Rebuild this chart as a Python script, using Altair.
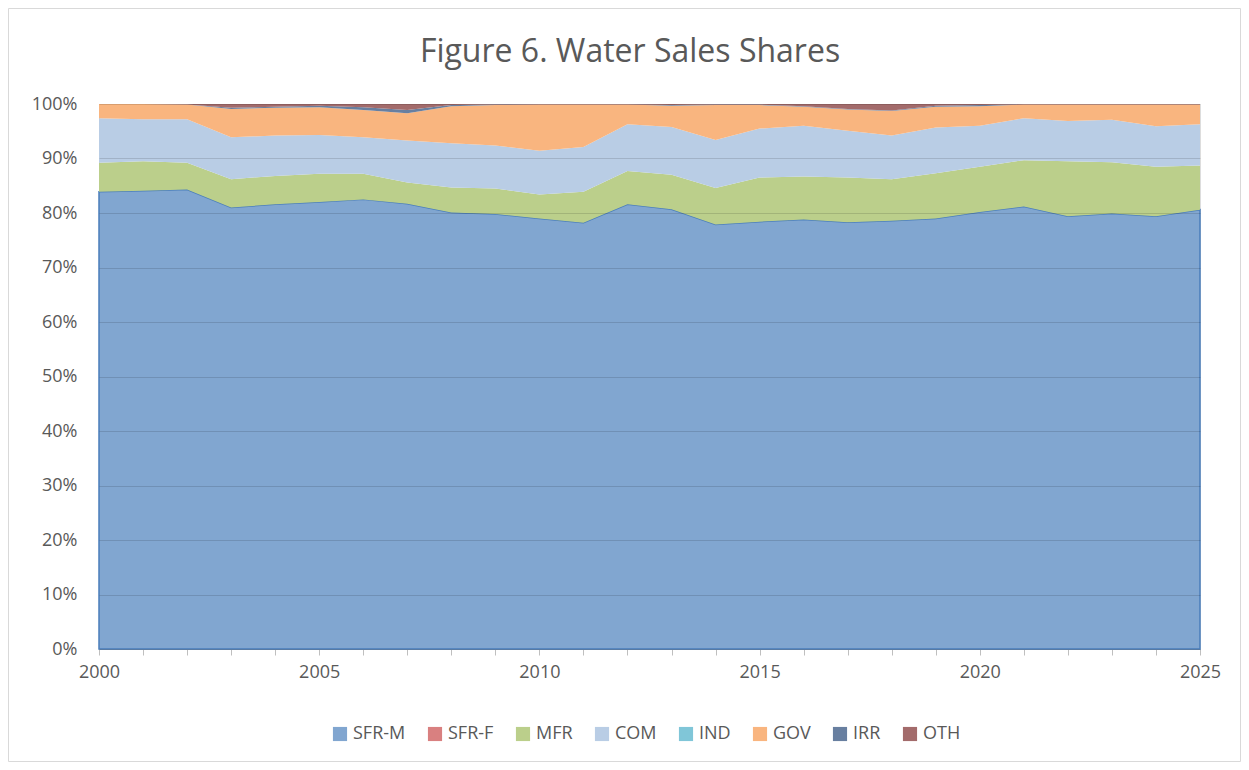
import altair as alt
import pandas as pd

years = list(range(2000, 2026))
series = ["SFR-M", "SFR-F", "MFR", "COM", "IND", "GOV", "IRR", "OTH"]

sfr_m = [83.9, 84.1, 84.3, 81.0, 81.6, 82.0, 82.5, 81.7, 80.1, 79.8, 79.0, 78.2, 81.6,
         80.7, 77.9, 78.4, 78.8, 78.3, 78.6, 79.0, 80.2, 81.2, 79.4, 79.9, 79.4, 80.6]
sfr_f = [0.0] * 26
mfr = [5.3, 5.4, 4.9, 5.2, 5.2, 5.2, 4.7, 3.9, 4.6, 4.7, 4.4, 5.7, 6.1,
       6.3, 6.7, 8.1, 7.9, 8.2, 7.6, 8.3, 8.3, 8.5, 10.1, 9.4, 9.1, 8.1]
com = [8.2, 7.7, 8.0, 7.7, 7.4, 7.1, 6.7, 7.7, 8.1, 7.9, 8.0, 8.2, 8.6,
       8.8, 8.8, 9.0, 9.3, 8.6, 8.0, 8.4, 7.5, 7.7, 7.4, 7.8, 7.4, 7.6]
ind = [0.0] * 26
gov = [2.6, 2.8, 2.7, 5.2, 5.1, 5.1, 5.0, 5.0, 6.8, 7.4, 8.5, 7.8, 3.6,
       3.9, 6.4, 4.3, 3.5, 3.9, 4.5, 3.8, 3.6, 2.5, 3.0, 2.8, 4.0, 3.6]
irr = [0.0, 0.0, 0.0, 0.2, 0.2, 0.3, 0.5, 0.6, 0.2, 0.1, 0.0, 0.0, 0.0,
       0.1, 0.1, 0.1, 0.1, 0.1, 0.1, 0.2, 0.2, 0.0, 0.0, 0.0, 0.0, 0.0]
oth = [0.0, 0.0, 0.1, 0.7, 0.5, 0.3, 0.6, 1.1, 0.2, 0.1, 0.1, 0.1, 0.1,
       0.2, 0.1, 0.1, 0.4, 0.9, 1.2, 0.3, 0.2, 0.1, 0.1, 0.1, 0.1, 0.1]

colors = ["#81a6d0", "#d98080", "#bbcf8b", "#b9cde5", "#80c6d8", "#f9b57f", "#687fa0", "#a36b6b"]
title_text = "Figure 6. Water Sales Shares"

vals = [sfr_m, sfr_f, mfr, com, ind, gov, irr, oth]
rows = []
for si, (name, arr) in enumerate(zip(series, vals)):
    for y, v in zip(years, arr):
        rows.append({"year": y, "series": name, "idx": si, "share": v})
df = pd.DataFrame(rows)

txt = "#595959"
font = "Open Sans"

area = alt.Chart(df).mark_area(strokeWidth=1.5, interpolate="linear").encode(
    x=alt.X("year:Q",
            scale=alt.Scale(domain=[2000, 2025], nice=False, zero=False),
            axis=alt.Axis(values=years, labelExpr="datum.value % 5 == 0 ? datum.value : ''",
                          title=None, grid=False, tickSize=6, tickColor="#bfbfbf",
                          domainColor="#bfbfbf", labelFontSize=18, labelColor=txt,
                          labelFont=font, labelPadding=8, labelFlush=False)),
    y=alt.Y("share:Q", stack="normalize",
            scale=alt.Scale(domain=[0, 1], nice=False),
            axis=alt.Axis(values=[i / 10 for i in range(11)], format=".0%", title=None,
                          ticks=False, domain=False, gridColor="#000000", gridOpacity=0.13,
                          labelFontSize=18, labelColor=txt, labelFont=font,
                          labelPadding=22, zindex=1)),
    color=alt.Color("series:N", scale=alt.Scale(domain=series, range=colors),
                    legend=alt.Legend(title=None, orient="none", legendX=232, legendY=621,
                                      direction="horizontal", columns=8, symbolType="square",
                                      symbolSize=200, symbolStrokeWidth=0, labelFontSize=18,
                                      labelColor=txt, labelFont=font, columnPadding=20,
                                      symbolOpacity=1)),
    stroke=alt.condition("datum.series == 'SFR-M'", alt.value("#4a7ebb"), alt.value("transparent")),
    order=alt.Order("idx:Q", sort="ascending"),
)

border = alt.Chart(alt.Data(values=[{}])).mark_rect(fill=None, stroke="#d9d9d9", strokeWidth=1).encode(
    x=alt.value(-90.5), x2=alt.value(1141.5), y=alt.value(-95.5), y2=alt.value(657.5)
)

title = alt.Chart(alt.Data(values=[{"t": title_text}])).mark_text(
    fontSize=32, font=font, color=txt, align="center", baseline="alphabetic"
).encode(text="t:N", x=alt.value(531), y=alt.value(-42))

chart = alt.layer(border, area, title).properties(
    width=1101, height=545,
    autosize=alt.AutoSizeParams(type="none"),
    padding={"left": 91, "top": 96, "right": 41, "bottom": 113},
).configure_view(stroke=None).configure(background="white")

chart.save("out.html", embed_options={"renderer": "svg", "actions": False})
